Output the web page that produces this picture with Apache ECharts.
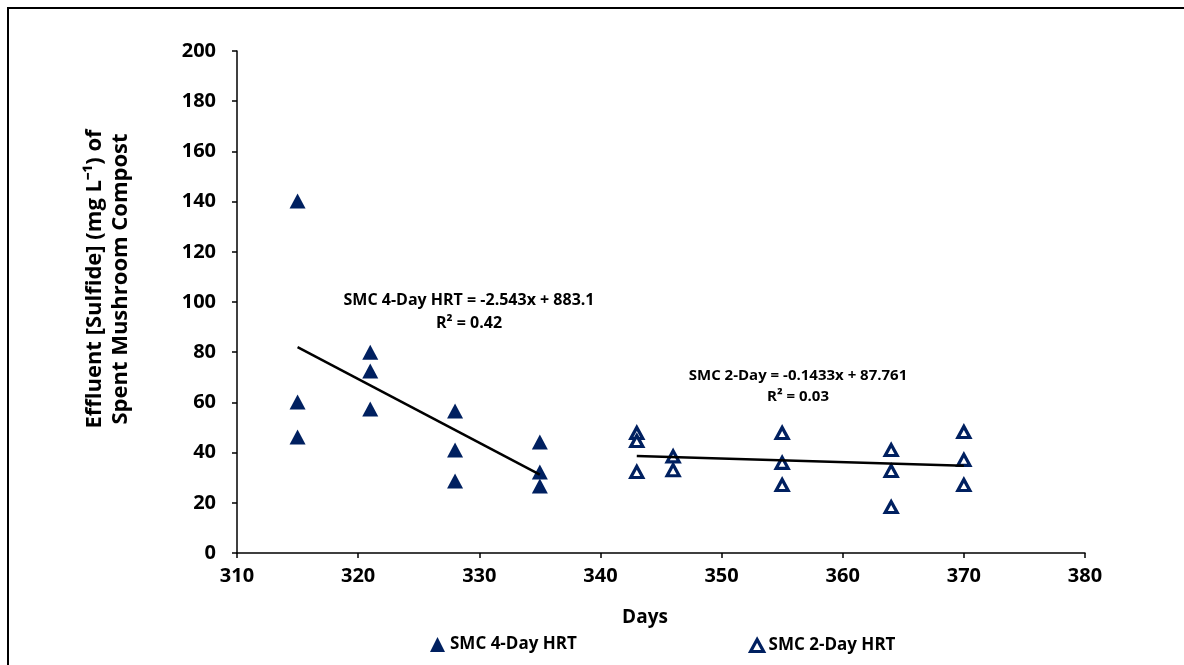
<!DOCTYPE html>
<html>
<head>
<meta charset="utf-8">
<title>Effluent sulfide – Spent Mushroom Compost</title>
<script src="https://cdn.jsdelivr.net/npm/echarts@6/dist/echarts.min.js"></script>
<style>
  html, body { margin: 0; padding: 0; background: #ffffff; }
  #chart { width: 1184px; height: 665px; }
</style>
</head>
<body>
<div id="chart"></div>
<script>
// Sampling days and effluent sulfide (mg/L) for the two hydraulic retention times
const days4 = [315, 315, 315, 321, 321, 321, 328, 328, 328, 335, 335, 335];
const sulfide4 = [140.2, 60.2, 46.2, 80.0, 72.5, 57.4, 56.6, 41.0, 28.7, 44.2, 32.3, 26.7];

const days2 = [343, 343, 343, 346, 346, 355, 355, 355, 364, 364, 364, 370, 370, 370];
const sulfide2 = [47.8, 44.6, 32.3, 38.5, 33.0, 47.8, 35.9, 27.1, 41.0, 32.7, 18.3, 48.2, 37.1, 27.1];

// Linear fits: [slope, intercept], and the day span each fit covers
const fit4 = [-2.543, 883.1];
const fit2 = [-0.1433, 87.761];
const span4 = [315, 335];
const span2 = [343, 370];

const seriesNames = ['SMC 4-Day HRT', 'SMC 2-Day HRT'];
const fitLabels4 = ['SMC 4-Day HRT = -2.543x + 883.1', 'R² = 0.42'];
const fitLabels2 = ['SMC 2-Day = -0.1433x + 87.761', 'R² = 0.03'];
const yTitle = ['Effluent [Sulfide] (mg L⁻¹) of', 'Spent Mushroom Compost'];
const xTitle = 'Days';

const navy = '#002060';
const FONT = '"Open Sans", "Liberation Sans", sans-serif';

const pairs = (xs, ys) => xs.map((x, i) => [x, ys[i]]);
const fitLine = (fit, span) => span.map(x => [x, fit[0] * x + fit[1]]);

const chart = echarts.init(document.getElementById('chart'), null, { renderer: 'canvas' });

const axisCommon = {
  axisLine: { show: true, onZero: false, lineStyle: { color: '#000', width: 1.5 } },
  axisTick: { show: true, inside: false, length: 5, lineStyle: { color: '#000', width: 1.5 } },
  splitLine: { show: false },
  axisLabel: { color: '#000', fontFamily: FONT, fontWeight: 'bold', fontSize: 20 }
};

const filledStyle = { color: navy, opacity: 1 };
const hollowStyle = { color: '#fff', borderColor: navy, borderWidth: 3.2, opacity: 1 };
const legendText = { color: '#000', fontFamily: FONT, fontWeight: 'bold', fontSize: 17 };

chart.setOption({
  animation: false,
  backgroundColor: '#fff',
  grid: { left: 237, right: 99, top: 51, bottom: 112, containLabel: false },
  xAxis: Object.assign({}, axisCommon, {
    type: 'value', min: 310, max: 380, interval: 10,
    axisLabel: Object.assign({}, axisCommon.axisLabel, { margin: 13 })
  }),
  yAxis: Object.assign({}, axisCommon, {
    type: 'value', min: 0, max: 200, interval: 20,
    axisLabel: Object.assign({}, axisCommon.axisLabel, { margin: 21 })
  }),
  legend: [
    {
      data: [{ name: seriesNames[0], icon: 'triangle', itemStyle: filledStyle }],
      left: 425, top: 631, itemWidth: 15, itemHeight: 15, itemGap: 0,
      textStyle: legendText
    },
    {
      data: [{ name: seriesNames[1], icon: 'triangle', itemStyle: hollowStyle }],
      left: 744, top: 632, itemWidth: 13, itemHeight: 12, itemGap: 0,
      textStyle: legendText
    }
  ],
  graphic: [
    {
      type: 'rect', silent: true, z: 100,
      shape: { x: 8, y: 8, width: 1300, height: 800 },
      style: { fill: 'none', stroke: '#000', lineWidth: 2 }
    },
    {
      type: 'text', silent: true, position: [108, 279], rotation: Math.PI / 2,
      style: {
        text: yTitle.join('\n'), x: 0, y: 0, align: 'center', verticalAlign: 'middle',
        fill: '#000', font: 'bold 22px ' + FONT, lineHeight: 26
      }
    },
    {
      type: 'text', silent: true, position: [645, 618],
      style: { text: xTitle, x: 0, y: 0, align: 'center', verticalAlign: 'middle', fill: '#000', font: 'bold 19px ' + FONT }
    },
    {
      type: 'text', silent: true, position: [469, 312],
      style: { text: fitLabels4.join('\n'), x: 0, y: 0, align: 'center', verticalAlign: 'middle', fill: '#000', font: 'bold 16px ' + FONT, lineHeight: 23 }
    },
    {
      type: 'text', silent: true, position: [798, 386],
      style: { text: fitLabels2.join('\n'), x: 0, y: 0, align: 'center', verticalAlign: 'middle', fill: '#000', font: 'bold 15px ' + FONT, lineHeight: 21 }
    }
  ],
  series: [
    {
      name: seriesNames[0], type: 'scatter', data: pairs(days4, sulfide4),
      symbol: 'triangle', symbolSize: [16, 15],
      itemStyle: filledStyle, z: 3
    },
    {
      name: seriesNames[1], type: 'scatter', data: pairs(days2, sulfide2),
      symbol: 'triangle', symbolSize: [12, 11],
      itemStyle: hollowStyle, z: 3
    },
    {
      name: 'fit4', type: 'line', data: fitLine(fit4, span4),
      showSymbol: false, symbol: 'none', silent: true,
      lineStyle: { color: '#000', width: 2.5 }, z: 4
    },
    {
      name: 'fit2', type: 'line', data: fitLine(fit2, span2),
      showSymbol: false, symbol: 'none', silent: true,
      lineStyle: { color: '#000', width: 2.5 }, z: 4
    }
  ]
});
</script>
</body>
</html>
